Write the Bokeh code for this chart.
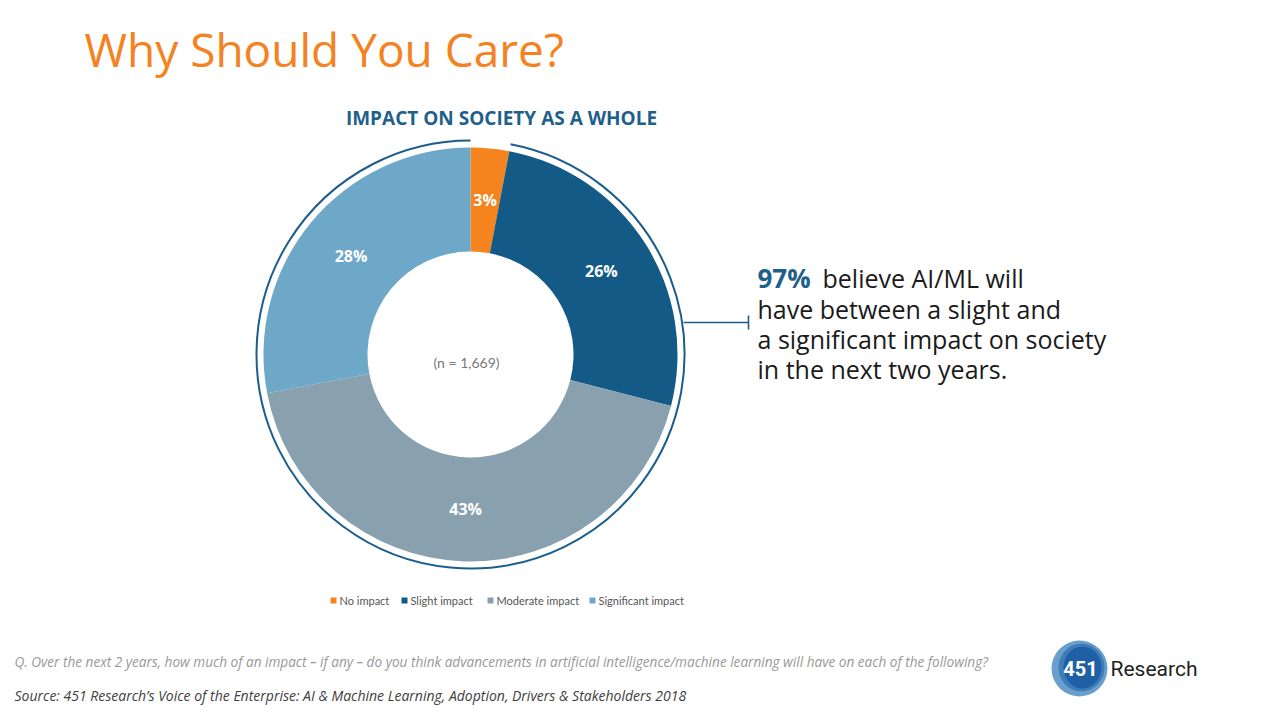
import numpy as np
from bokeh.plotting import figure
from bokeh.models import Range1d
from bokeh.core.properties import value
from bokeh.embed import file_html
from bokeh.resources import INLINE

# ---------------- data ----------------
categories = ["No impact", "Slight impact", "Moderate impact", "Significant impact"]
shares = [3, 26, 43, 28]
share_labels = ["3%", "26%", "43%", "28%"]
colors = ["#F5841F", "#135A87", "#89A1AF", "#6EA8C8"]
sample_note = "(n = 1,669)"
headline = "Why Should You Care?"
chart_title = "IMPACT ON SOCIETY AS A WHOLE"
callout_value = "97%"
callout_lines = ["believe AI/ML will", "have between a slight and",
                 "a significant impact on society", "in the next two years."]
question = ("Q. Over the next 2 years, how much of an impact \u2013 if any \u2013 do you think advancements "
            "in artificial intelligence/machine learning will have on each of the following?")
source = ("Source: 451 Research\u2019s Voice of the Enterprise: AI & Machine Learning, Adoption, "
          "Drivers & Stakeholders 2018")
logo_num = "451"
logo_word = "Research"

# ---------------- layout ----------------
W, H = 1280, 720
def Y(v):
    return H - v

p = figure(width=W, height=H, x_range=Range1d(0, W), y_range=Range1d(0, H),
           output_backend="svg", toolbar_location=None, min_border=0,
           x_axis_type=None, y_axis_type=None)
p.outline_line_color = None
p.grid.visible = False
p.background_fill_color = "white"

BLUE = "#1B5E8E"
cx, cy = 470, Y(354)
r_in, r_out, r_ring = 103, 207, 214

total = float(sum(shares))
cum = np.cumsum([0] + shares) / total
start = np.pi / 2 - cum[:-1] * 2 * np.pi
end = np.pi / 2 - cum[1:] * 2 * np.pi

p.annular_wedge(x=cx, y=cy, inner_radius=r_in, outer_radius=r_out,
                start_angle=list(start), end_angle=list(end), direction="clock",
                fill_color=colors, line_color=None)

# outer ring over the "some impact" share
p.arc(x=cx, y=cy, radius=r_ring, start_angle=float(end[0]), end_angle=float(np.pi / 2 - 2 * np.pi),
      direction="clock", line_color=BLUE, line_width=2)

# percentage labels
mid = (cum[:-1] + cum[1:]) / 2
ang = np.pi / 2 - mid * 2 * np.pi
r_lab = (r_in + r_out) / 2
p.text(x=list(cx + r_lab * np.cos(ang)), y=list(cy + r_lab * np.sin(ang)), text=share_labels,
       text_align="center", text_baseline="middle", text_color="white",
       text_font=value("Open Sans"), text_font_style="bold", text_font_size="16px")

p.text(x=[cx - 4], y=[Y(362)], text=[sample_note], text_align="center", text_baseline="middle",
       text_color="#7a7a7a", text_font=value("Lato"), text_font_size="14px")

# headline and chart title
p.text(x=[84], y=[Y(48)], text=[headline], text_align="left", text_baseline="middle",
       text_color="#F58220", text_font=value("Open Sans"), text_font_size="46px")
p.text(x=[501], y=[Y(117)], text=[chart_title], text_align="center", text_baseline="middle",
       text_color="#1F5F8B", text_font=value("Open Sans"), text_font_style="bold", text_font_size="19px")

# callout
p.segment(x0=[683], y0=[Y(322)], x1=[748], y1=[Y(322)], line_color=BLUE, line_width=1.6)
p.segment(x0=[748], y0=[Y(315)], x1=[748], y1=[Y(329)], line_color=BLUE, line_width=1.6)
line_y = [277, 308, 338, 368]
p.text(x=[757], y=[Y(line_y[0])], text=[callout_value], text_align="left", text_baseline="middle",
       text_color="#1F5F8B", text_font=value("Open Sans"), text_font_style="bold", text_font_size="26px")
p.text(x=[822] + [757] * 3, y=[Y(v) for v in line_y], text=callout_lines, text_align="left",
       text_baseline="middle", text_color="#1a1a1a", text_font=value("Open Sans"), text_font_size="25px")

# legend
leg_x = [330, 401, 487, 589]
p.rect(x=[v + 3 for v in leg_x], y=[Y(600)] * 4, width=6, height=6, fill_color=colors, line_color=None)
p.text(x=[v + 9 for v in leg_x], y=[Y(600)] * 4, text=categories, text_align="left",
       text_baseline="middle", text_color="#555555", text_font=value("Lato"), text_font_size="11px")

# footer
p.text(x=[14], y=[Y(661)], text=[question], text_align="left", text_baseline="middle",
       text_color="#999999", text_font=value("Open Sans"), text_font_style="italic", text_font_size="13.6px")
p.text(x=[14], y=[Y(695)], text=[source], text_align="left", text_baseline="middle",
       text_color="#404040", text_font=value("Open Sans"), text_font_style="italic", text_font_size="14px")

# logo
p.ellipse(x=[1079], y=[Y(668)], width=56, height=56, fill_color="#6A9FCD", line_color=None)
p.ellipse(x=[1081], y=[Y(667)], width=46, height=48, fill_color="#3F7DB8", line_color=None)
p.ellipse(x=[1082], y=[Y(667)], width=38, height=42, fill_color="#1F5FA5", line_color=None)
p.text(x=[1080], y=[Y(668)], text=[logo_num], text_align="center", text_baseline="middle",
       text_color="white", text_font=value("Roboto"), text_font_style="bold", text_font_size="20px")
p.text(x=[1110], y=[Y(668)], text=[logo_word], text_align="left", text_baseline="middle",
       text_color="#222222", text_font=value("Roboto"), text_font_size="21px")

open("out.html", "w").write(file_html(p, INLINE))
